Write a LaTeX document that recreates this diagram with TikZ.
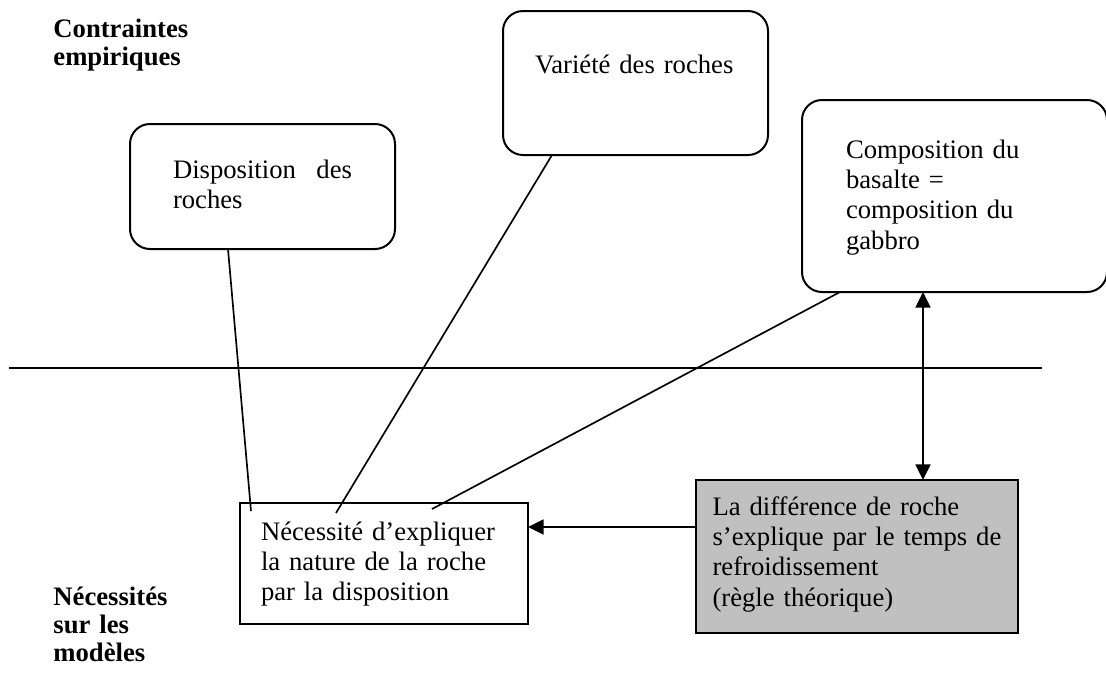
\documentclass[tikz,border=0pt]{standalone}
\usepackage{fontspec}
\setmainfont{Liberation Serif}
\usetikzlibrary{arrows.meta,positioning,calc}
\definecolor{myGray}{RGB}{192,192,192}
\tikzset{
	cbox/.style={
		draw=black,
		line width=0.9pt,
		outer sep=0pt,
		inner ysep=0pt,
		align=left,
		anchor=north west,
		font=\fontsize{12}{13.7}\selectfont
	},
	rbox/.style={cbox, rounded corners=9pt},
	clabel/.style={
		anchor=base west,
		inner sep=0pt,
		align=left,
		text width=3cm,
		font=\fontsize{12}{12.6}\selectfont\bfseries
	},
	slink/.style={line width=0.75pt},
	sarr/.style={->, line width=0.75pt},
	darr/.style={<->, line width=0.75pt}
}

\begin{document}
\begin{tikzpicture}[x=0.45pt, y=-0.45pt, >={Triangle[length=7pt, width=6.75pt]}]
	\useasboundingbox (0,0) rectangle (1106,673);
	% headings
	\node[clabel] (contr) at (53,37) {Contraintes\\empiriques};
	\node[clabel] (necmod) at (53,605) {Nécessités\\sur les\\modèles};
	% separator
	\coordinate (sepL) at (9,368);
	\coordinate (sepR) at (1042,368);
	\draw[line width=0.9pt] (sepL) -- (sepR);
	% empirical constraints
	\node[rbox, inner xsep=19.35pt, text width=80.55pt, text height=24.3pt, text depth=31.95pt] (disp) at (130,124) {Disposition\hfill des\\roches};
	\node[rbox, inner xsep=14.4pt, text width=90.45pt, text height=27.9pt, text depth=36.9pt] (var) at (503,11) {Variété des roches};
	\node[rbox, inner xsep=19.8pt, text width=97.65pt, text height=26.1pt, text depth=60.3pt] (comp) at (802,100) {Composition du\\basalte =\\composition du\\gabbro};
	% model requirements
	\node[cbox, inner xsep=9.45pt, text width=110.7pt, text height=16.65pt, text depth=37.8pt] (nec) at (240,503) {Nécessité d’expliquer\\la nature de la roche\\par la disposition};
	\node[cbox, fill=myGray, inner xsep=7.45pt, text width=130pt, text height=15.75pt, text depth=53.1pt] (diff) at (696,480) {La différence de roche\\s’explique par le temps de\\refroidissement\\(règle théorique)};
	% links
	\draw[slink] ($(disp.south west)+(98,0)$) -- ($(nec.north west)+(11,8)$);
	\draw[slink] ($(var.south west)+(49,0)$) -- ($(nec.north west)+(96,10)$);
	\draw[slink] ($(comp.south west)+(38,0)$) -- ($(nec.north west)+(192,6)$);
	\draw[sarr] ($(diff.north west)+(0,47)$) -- ($(nec.north east)+(0,24)$);
	\draw[darr] ($(comp.south west)+(121,0)$) -- ($(diff.north west)+(227,0)$);
\end{tikzpicture}
\end{document}
